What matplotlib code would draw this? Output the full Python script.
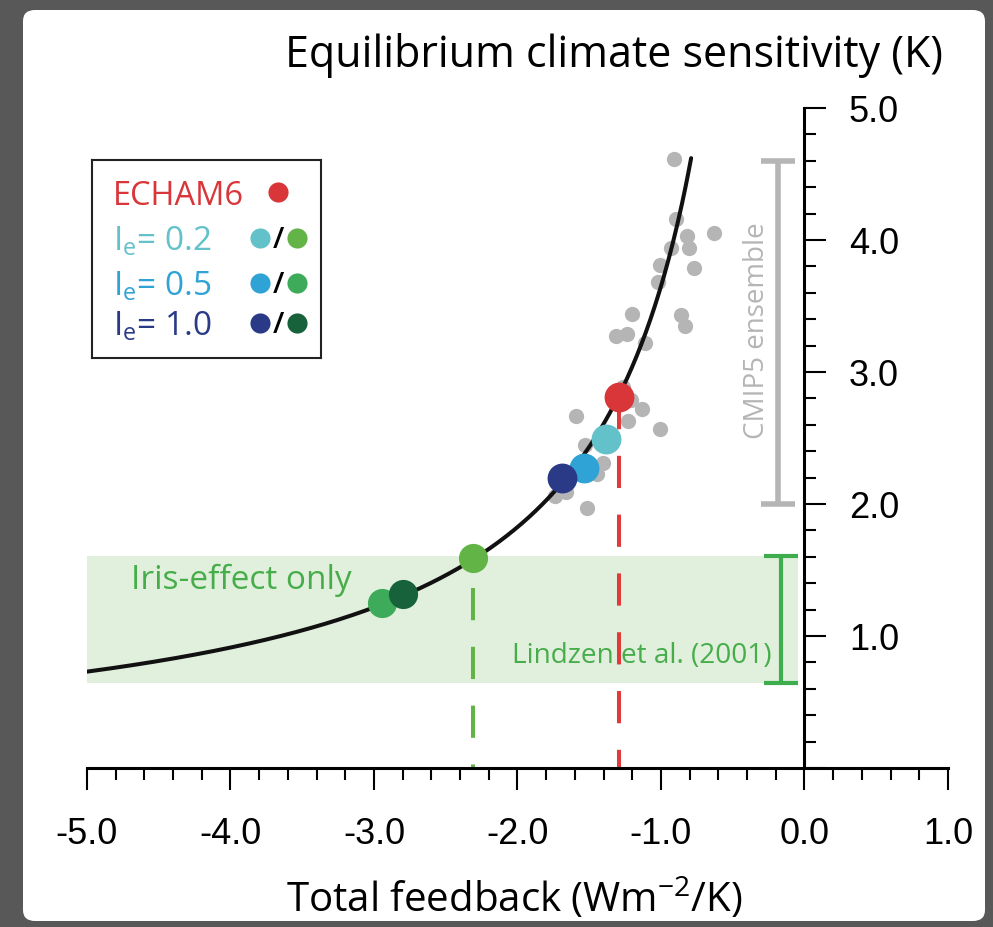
import numpy as np
import matplotlib
matplotlib.use("Agg")
import matplotlib.pyplot as plt
from matplotlib.patches import FancyBboxPatch, Rectangle

plt.rcParams['font.family'] = ['Open Sans', 'DejaVu Sans']
plt.rcParams['mathtext.fontset'] = 'custom'
plt.rcParams['mathtext.rm'] = 'Open Sans'

# ---- data ----
F2X = 3.65                       # W m-2, ECS = -F2X / feedback
curve_feedback = (-5.0, -0.79)

cmip5_feedback = [-0.909, -0.898, -0.817, -0.63, -0.93, -0.805, -0.772, -1.01, -1.024,
                  -1.202, -0.863, -0.833, -1.316, -1.237, -1.111, -1.263, -1.209, -1.132,
                  -1.592, -1.232, -1.005, -1.528, -1.402, -1.449, -1.739, -1.662, -1.518]
cmip5_ecs = [4.61, 4.16, 4.03, 4.05, 3.94, 3.94, 3.79, 3.81, 3.68,
             3.44, 3.43, 3.35, 3.27, 3.29, 3.22, 2.89, 2.79, 2.72,
             2.67, 2.63, 2.57, 2.45, 2.31, 2.23, 2.06, 2.09, 1.97]

echam_feedback = -1.29
echam_ecs = 2.81

ie_labels = ['0.2', '0.5', '1.0']
ie_feedback = [-1.383, -1.539, -1.688]
ie_ecs = [2.49, 2.27, 2.20]
iris_feedback = [-2.312, -2.947, -2.80]
iris_ecs = [1.593, 1.252, 1.316]

cmip5_range = (2.0, 4.6)
lindzen_range = (0.645, 1.605)

# ---- colours ----
c_red = '#d9363a'
ie_colors = ['#62c1c9', '#2fa3d5', '#2a3a86']
iris_colors = ['#63b446', '#3dab59', '#17613b']
c_gray = '#b5b5b5'
c_green_txt = '#47ad4b'
c_band = '#e1f0dd'

W, H = 993, 927
fig = plt.figure(figsize=(W / 100, H / 100), dpi=100)
fig.patch.set_facecolor('#585858')
fig.patches.append(FancyBboxPatch((23 / W, 1 - 921 / H), (985 - 23) / W, (921 - 10) / H,
                                  boxstyle='round,pad=0,rounding_size=0.012',
                                  transform=fig.transFigure, facecolor='white',
                                  edgecolor='none', zorder=-5))

ax = fig.add_axes([87 / W, 1 - 768 / H, (948 - 87) / W, (768 - 108) / H])
ax.patch.set_visible(False)
ax.set_xlim(-5, 1)
ax.set_ylim(0, 5)

# spines: bottom axis and y axis sitting at x = 0
for s in ['top', 'left']:
    ax.spines[s].set_visible(False)
ax.spines['right'].set_position(('data', 0))
ax.spines['right'].set_bounds(0, 5)
ax.spines['bottom'].set_bounds(-5, 1)
for s in ['right', 'bottom']:
    ax.spines[s].set_linewidth(2.2)
ax.yaxis.set_ticks_position('right')

ax.set_xticks(np.arange(-5, 1.01, 1.0))
ax.set_xticklabels([f'{v:.1f}' for v in np.arange(-5, 1.01, 1.0)])
ax.set_xticks(np.arange(-5, 1.01, 0.2), minor=True)
ax.set_yticks(np.arange(0, 5.01, 1.0))
ax.set_yticklabels([''] + [f'{v:.1f}' for v in np.arange(1, 5.01, 1.0)])
ax.set_yticks(np.arange(0, 5.01, 0.2), minor=True)
ax.tick_params(which='both', direction='out', width=1.5, labelfontfamily='Liberation Sans')
ax.tick_params(which='major', length=16, labelsize=26)
ax.tick_params(which='minor', length=8.5)
ax.tick_params(axis='x', which='major', pad=19)
ax.tick_params(axis='y', which='major', pad=16)

# Lindzen band
ax.add_patch(Rectangle((-5, lindzen_range[0]), 4.955, lindzen_range[1] - lindzen_range[0],
                       facecolor=c_band, edgecolor='none', zorder=0.5))

# dashed drop lines
ax.plot([echam_feedback, echam_feedback], [echam_ecs, 0], color='#e03a3a', lw=2.9,
        dashes=(8, 6.6), zorder=2, clip_on=False)
ax.plot([iris_feedback[0], iris_feedback[0]], [1.364, 0], color='#62b446', lw=2.9,
        dashes=(8, 6.6), zorder=2, clip_on=False)

# CMIP5 ensemble
ax.plot(cmip5_feedback, cmip5_ecs, 'o', color=c_gray, ms=11, mec='none', zorder=3)

lam = np.linspace(curve_feedback[0], curve_feedback[1], 400)
ax.plot(lam, -F2X / lam, color='#111111', lw=2.9, zorder=4, solid_capstyle='round')

ax.plot([echam_feedback], [echam_ecs], 'o', color=c_red, ms=21.5, mec='none', zorder=5)
for fx, fy, col in zip(ie_feedback, ie_ecs, ie_colors):
    ax.plot([fx], [fy], 'o', color=col, ms=21.5, mec='none', zorder=5)
for fx, fy, col in zip(iris_feedback, iris_ecs, iris_colors):
    ax.plot([fx], [fy], 'o', color=col, ms=21, mec='none', zorder=5)

# range bars
ax.errorbar([-0.185], [sum(cmip5_range) / 2], yerr=[(cmip5_range[1] - cmip5_range[0]) / 2],
            fmt='none', ecolor=c_gray, elinewidth=4, capsize=12, capthick=4, zorder=3,
            clip_on=False)
ax.errorbar([-0.164], [sum(lindzen_range) / 2], yerr=[(lindzen_range[1] - lindzen_range[0]) / 2],
            fmt='none', ecolor='#3ead4d', elinewidth=3, capsize=12, capthick=3, zorder=3,
            clip_on=False)

ax.text(-0.33, 3.31, 'CMIP5 ensemble', rotation=90, ha='center', va='center',
        fontsize=20, color=c_gray)
ax.text(-0.226, 0.795, 'Lindzen et al. (2001)', ha='right', va='baseline',
        fontsize=20.2, color=c_green_txt, zorder=3)
ax.text(-4.693, 1.356, 'Iris-effect only', ha='left', va='baseline',
        fontsize=24, color=c_green_txt)

# titles
fig.text(943 / W, 1 - 67 / H, 'Equilibrium climate sensitivity (K)', ha='right',
         va='baseline', fontsize=31)
fig.text(514 / W, 1 - 912 / H, r'Total feedback (Wm$^{\mathregular{-2}}$/K)', ha='center',
         va='baseline', fontsize=29)

# legend box (local pixel coordinates)
lax = fig.add_axes([92 / W, 1 - 358 / H, 229 / W, 198 / H])
lax.set_xlim(0, 229)
lax.set_ylim(198, 0)
lax.set_xticks([])
lax.set_yticks([])
for s in lax.spines.values():
    s.set_linewidth(1.5)
    s.set_color('#222222')
lax.text(21, 45, 'ECHAM6', color=c_red, fontsize=23.5, va='baseline')
lax.plot([186], [32], 'o', color=c_red, ms=14.5, mec='none')
rows_base = [90, 135, 175]
for lab, col, gcol, yb in zip(ie_labels, ie_colors, iris_colors, rows_base):
    lax.text(21, yb, r'I$_\mathregular{e}$= ' + lab, color=col, fontsize=24, va='baseline')
    lax.plot([168], [yb - 12], 'o', color=col, ms=14.5, mec='none')
    lax.text(186, yb - 2, '/', ha='center', va='baseline', fontsize=21,
             fontweight='semibold', color='black')
    lax.plot([205], [yb - 12], 'o', color=gcol, ms=14.5, mec='none')

fig.savefig('out.png', dpi=100, facecolor=fig.get_facecolor())
